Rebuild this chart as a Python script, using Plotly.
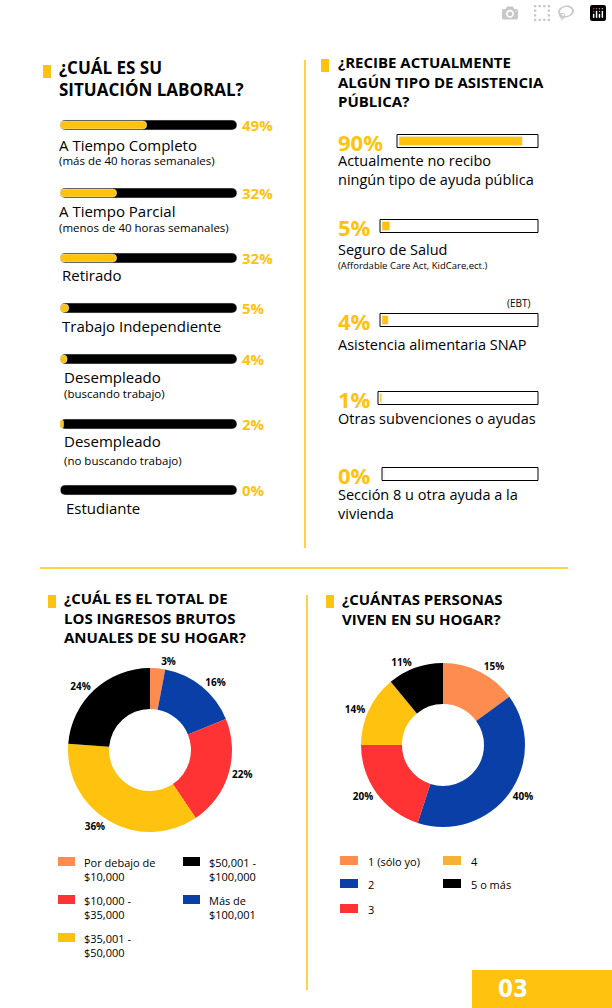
import plotly.graph_objects as go

W, H = 612, 1008
FONT = "Open Sans"
YEL, BLK = "#FFC20E", "#000000"
ORG, BLU, RED = "#FF8C4F", "#0B3FA8", "#FF3333"

# --- Data ---
emp_labels = ["A Tiempo Completo", "A Tiempo Parcial", "Retirado", "Trabajo Independiente",
              "Desempleado", "Desempleado", "Estudiante"]
emp_sub = ["(más de 40 horas semanales)", "(menos de 40 horas semanales)", "", "",
           "(buscando trabajo)", "(no buscando trabajo)", ""]
emp_values = [49, 32, 32, 5, 4, 2, 0]

aid_labels = ["Actualmente no recibo<br>ningún tipo de ayuda pública", "Seguro de Salud",
              "Asistencia alimentaria SNAP", "Otras subvenciones o ayudas",
              "Sección 8 u otra ayuda a la<br>vivienda"]
aid_values = [90, 5, 4, 1, 0]

inc_labels = ["Por debajo de $10,000", "Más de $100,001", "$10,000 - $35,000",
              "$35,001 - $50,000", "$50,001 - $100,000"]
inc_values = [3, 16, 22, 36, 24]
inc_colors = [ORG, BLU, RED, YEL, BLK]

hh_labels = ["1 (sólo yo)", "2", "3", "4", "5 o más"]
hh_values = [15, 40, 20, 14, 11]
hh_colors = [ORG, BLU, RED, YEL, BLK]

# --- Layout positions (pixels) ---
emp_bar_y = [125, 193, 258, 308, 359, 424, 490]
emp_lab_y = [145, 211, 275, 326, 377, 441, 508]
emp_sub_y = [160, 228, 0, 0, 394, 461, 0]
emp_lab_x = [57, 57, 60, 60, 62, 62, 64]
aid_bar_y = [141, 226, 320, 398, 474]
aid_lab_y = [170, 249, 344, 418, 504]
aid_base = [397, 380, 380, 378, 382]
aid_end = 538

fig = go.Figure()
ann, shp = [], []

def txt(x, y, s, size=14, color=BLK, bold=False, xa="left", ya="middle", fam=FONT):
    ann.append(dict(x=x / W, y=1 - y / H, xref="paper", yref="paper", text=s, showarrow=False,
                    xanchor=xa, yanchor=ya, align="left",
                    font=dict(family=fam, size=size, color=color,
                              weight=700 if bold else 400)))

def rect(x0, y0, x1, y1, fill, line=None):
    shp.append(dict(type="rect", xref="paper", yref="paper", x0=x0 / W, x1=x1 / W,
                    y0=1 - y1 / H, y1=1 - y0 / H, fillcolor=fill,
                    line=dict(width=0 if line is None else 1, color=line or fill)))

def vline(x, y0, y1, c):
    shp.append(dict(type="line", xref="paper", yref="paper", x0=x / W, x1=x / W,
                    y0=1 - y0 / H, y1=1 - y1 / H, line=dict(color=c, width=1.5)))

# employment bars
fig.add_trace(go.Bar(orientation="h", y=emp_bar_y, x=[177] * 7, base=[60] * 7, width=10,
                     marker=dict(color=BLK, cornerradius=5), hoverinfo="skip"))
fig.add_trace(go.Bar(orientation="h", y=emp_bar_y, x=[v * 1.77 for v in emp_values],
                     base=[60] * 7, width=8, marker=dict(color=YEL, cornerradius=4),
                     hoverinfo="skip"))
for i in range(7):
    txt(emp_lab_x[i], emp_lab_y[i], emp_labels[i], 15)
    if emp_sub[i]:
        txt(emp_lab_x[i], emp_sub_y[i], emp_sub[i], 11.5)
    txt(240, emp_bar_y[i], f"{emp_values[i]}%", 15, YEL, True)

# aid bars
fig.add_trace(go.Bar(orientation="h", y=aid_bar_y, x=[aid_end - b for b in aid_base],
                     base=aid_base, width=13, marker=dict(color="white", line=dict(color=BLK, width=1)),
                     hoverinfo="skip"))
fig.add_trace(go.Bar(orientation="h", y=aid_bar_y,
                     x=[v / 100 * (aid_end - b - 4) for v, b in zip(aid_values, aid_base)],
                     base=[b + 2 for b in aid_base], width=9, marker=dict(color=YEL),
                     hoverinfo="skip"))
for i in range(5):
    txt(336, aid_bar_y[i] + 1, f"{aid_values[i]}%", 22, YEL, True)
    txt(336, aid_lab_y[i], aid_labels[i], 14.5)
txt(336, 266, "(Affordable Care Act, KidCare,ect.)", 9.5)
txt(505, 303, "(EBT)", 10)

# headings
rect(43, 65, 51, 78, YEL); txt(57, 79, "¿CUÁL ES SU<br>SITUACIÓN LABORAL?", 17, bold=True)
rect(321, 59, 329, 72, YEL); txt(336, 81, "¿RECIBE ACTUALMENTE<br>ALGÚN TIPO DE ASISTENCIA<br>PÚBLICA?", 15, bold=True)
rect(48, 595, 56, 608, YEL); txt(62, 617, "¿CUÁL ES EL TOTAL DE<br>LOS INGRESOS BRUTOS<br>ANUALES DE SU HOGAR?", 15, bold=True)
rect(326, 595, 334, 608, YEL); txt(340, 609, "¿CUÁNTAS PERSONAS<br>VIVEN EN SU HOGAR?", 15, bold=True)

# dividers
vline(305, 60, 548, YEL); vline(307, 595, 990, YEL)
shp.append(dict(type="line", xref="paper", yref="paper", x0=40 / W, x1=568 / W,
                y0=1 - 568 / H, y1=1 - 568 / H, line=dict(color=YEL, width=1.5)))

# pies
def pie(vals, labs, cols, cx, cy, r):
    fig.add_trace(go.Pie(values=vals, labels=labs, sort=False, direction="clockwise",
                         rotation=0, hole=0.5, marker=dict(colors=cols),
                         texttemplate="%{value}%", textposition="outside",
                         textfont=dict(family=FONT, size=10, color=BLK, weight=700),
                         showlegend=False, hoverinfo="label+value",
                         domain=dict(x=[(cx - r) / W, (cx + r) / W],
                                     y=[1 - (cy + r) / H, 1 - (cy - r) / H])))
pie(inc_values, inc_labels, inc_colors, 150, 750, 82)
pie(hh_values, hh_labels, hh_colors, 443, 745, 82)

# legends
leg_l = [(58, 862, ORG, "Por debajo de<br>$10,000"), (58, 900, RED, "$10,000 -<br>$35,000"),
         (58, 938, YEL, "$35,001 -<br>$50,000"), (183, 862, BLK, "$50,001 -<br>$100,000"),
         (183, 900, BLU, "Más de<br>$100,001")]
for x, y, c, s in leg_l:
    rect(x, y - 5, x + 17, y + 4, c)
    txt(x + 24, y + 7, s, 11)
leg_r = [(340, 861, ORG, "1 (sólo yo)"), (340, 884, BLU, "2"), (340, 909, RED, "3"),
         (443, 861, "#F5B335", "4"), (443, 884, BLK, "5 o más")]
for x, y, c, s in leg_r:
    rect(x, y - 5, x + 18, y + 4, c)
    txt(x + 26, y, s, 11)

# page number
rect(472, 970, 612, 1008, YEL)
txt(496, 989, "03", 24, "white", True, fam="DejaVu Sans Condensed")

fig.update_layout(width=W, height=H, margin=dict(l=0, r=0, t=0, b=0),
                  paper_bgcolor="white", plot_bgcolor="rgba(0,0,0,0)",
                  barmode="overlay", showlegend=False,
                  xaxis=dict(range=[0, W], visible=False, fixedrange=True),
                  yaxis=dict(range=[H, 0], visible=False, fixedrange=True),
                  annotations=ann, shapes=shp)
fig.write_html("out.html", post_script="document.body.style.margin='0';document.body.style.overflow='hidden';")
